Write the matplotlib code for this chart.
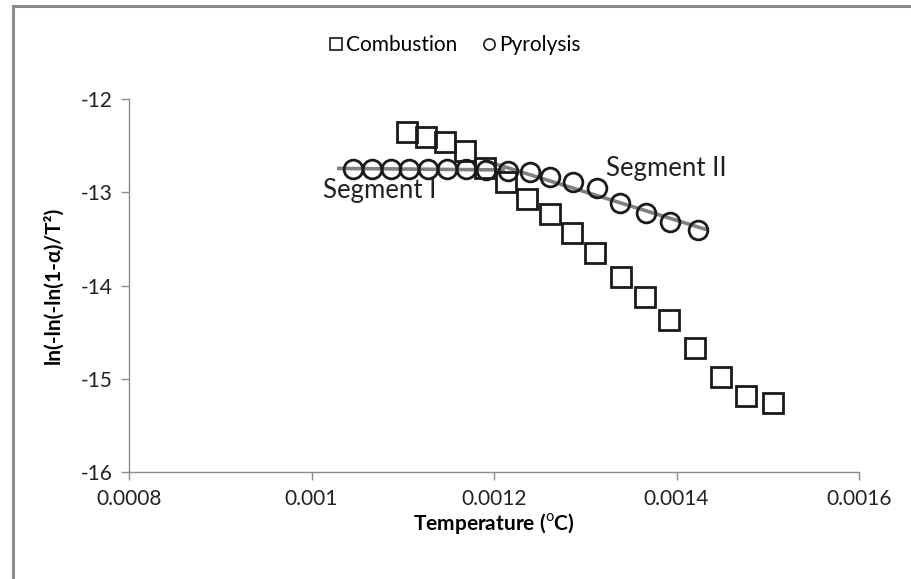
import numpy as np
import matplotlib
matplotlib.use("Agg")
import matplotlib.pyplot as plt
from matplotlib.patches import Rectangle

plt.rcParams['font.family'] = ['Lato', 'DejaVu Sans']
plt.rcParams['mathtext.fontset'] = 'custom'
plt.rcParams['mathtext.rm'] = 'Lato'

# Data
comb_x = [0.0011047, 0.0011255, 0.0011463, 0.0011677, 0.0011901, 0.0012132,
          0.0012362, 0.0012614, 0.0012855, 0.0013107, 0.0013392, 0.0013655,
          0.0013918, 0.0014203, 0.0014488, 0.0014762, 0.0015058]
comb_y = [-12.35, -12.41, -12.46, -12.56, -12.74, -12.89, -13.07, -13.23, -13.44,
          -13.65, -13.91, -14.12, -14.37, -14.67, -14.98, -15.19, -15.26]

pyro_x = [0.0010458, 0.0010666, 0.0010868, 0.0011068, 0.0011280, 0.0011482,
          0.0011690, 0.0011912, 0.0012153, 0.0012395, 0.0012614, 0.0012866,
          0.0013129, 0.0013381, 0.0013666, 0.0013929, 0.0014236]
pyro_y = [-12.75, -12.75, -12.75, -12.75, -12.75, -12.75, -12.75, -12.76, -12.77,
          -12.78, -12.84, -12.89, -12.95, -13.11, -13.22, -13.32, -13.41]

seg1_idx = list(range(0, 9))
seg2_idx = list(range(7, 17))
seg1_range = [0.00103, 0.00121]
seg2_range = [0.00119, 0.001433]

xticks = [0.0008, 0.001, 0.0012, 0.0014, 0.0016]
xtick_labels = ['0.0008', '0.001', '0.0012', '0.0014', '0.0016']
yticks = [-16, -15, -14, -13, -12]

fig = plt.figure(figsize=(9.11, 5.79), dpi=100)
# outer chart border (top and left visible)
fig.patches.append(Rectangle((13/911, -0.1), 1.2, 1 - 6/579 + 0.1, transform=fig.transFigure,
                             fill=False, edgecolor='#8c8c8c', linewidth=2.2))

ax = fig.add_axes([129/911, 1 - 472/579, 730/911, 373/579])

gray = '#808080'
for idx, rng in [(seg1_idx, seg1_range), (seg2_idx, seg2_range)]:
    xs = np.array([pyro_x[i] for i in idx])
    ys = np.array([pyro_y[i] for i in idx])
    p = np.polyfit(xs, ys, 1)
    xl = np.array(rng)
    ax.plot(xl, np.polyval(p, xl), color=gray, lw=2.6, zorder=2)

ax.plot(comb_x, comb_y, ls='none', marker='s', ms=14.5, mfc='none', mec='#1a1a1a',
        mew=2.0, label='Combustion', zorder=3)
ax.plot(pyro_x, pyro_y, ls='none', marker='o', ms=13.5, mfc='none', mec='#1a1a1a',
        mew=2.0, label='Pyrolysis', zorder=3)

ax.set_xlim(0.0008, 0.0016)
ax.set_ylim(-16, -12)
ax.set_xticks(xticks)
ax.set_xticklabels(xtick_labels)
ax.set_yticks(yticks)
ax.set_yticklabels([str(v) for v in yticks])

for s in ['top', 'right']:
    ax.spines[s].set_visible(False)
for s in ['left', 'bottom']:
    ax.spines[s].set_color('#8c8c8c')
    ax.spines[s].set_linewidth(1.0)
ax.tick_params(axis='both', direction='out', length=6, width=1.0, color='#8c8c8c',
               labelsize=15, labelcolor='#222222', pad=6)
ax.tick_params(axis='x', pad=6)

ax.set_xlabel('Temperature ($^{\\mathrm{o}}$C)', fontsize=15, fontweight='bold', labelpad=2)
ax.set_ylabel('ln(-ln(-ln(1-α)/T²)', fontsize=15, fontweight='bold', labelpad=12)

ax.text(0.0010126, -12.98, 'Segment I', fontsize=18.5, color='#222222', ha='left', va='center')
ax.text(0.0013227, -12.74, 'Segment II', fontsize=18.5, color='#222222', ha='left', va='center')

leg = fig.legend(loc='center', bbox_to_anchor=(455/911, 1 - 45/579), ncol=2, frameon=False,
                 fontsize=15, markerscale=0.6, handlelength=0.6, handletextpad=0.2,
                 columnspacing=1.2)
for h in leg.legend_handles:
    h.set_markeredgewidth(1.2)

fig.savefig('out.png', dpi=100)
